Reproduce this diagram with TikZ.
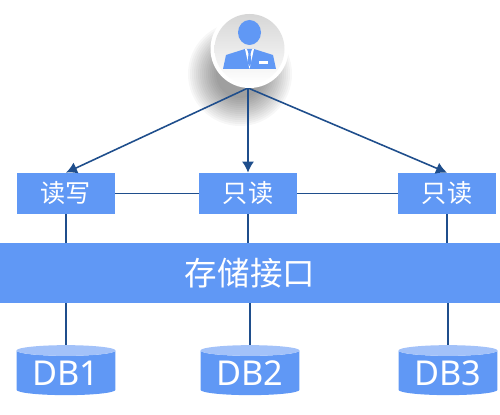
\documentclass[tikz,border=0pt]{standalone}
\usepackage{fontspec}
\setmainfont{Noto Sans}
\newfontfamily\cjk{Noto Sans CJK SC}
\usetikzlibrary{shapes.geometric,arrows.meta,positioning}
\definecolor{boxblue}{HTML}{6098F5}
\definecolor{toplight}{HTML}{A3C2F9}
\definecolor{linkblue}{HTML}{1F4E8C}
\tikzset{
    access/.style={fill=boxblue, minimum width=1.96cm, minimum height=0.82cm, inner sep=0pt, text=white, font=\cjk\fontsize{14.3}{16}\selectfont},
    store/.style={cylinder, shape border rotate=90, aspect=0.16, cylinder uses custom fill, cylinder body fill=boxblue, cylinder end fill=toplight, minimum width=1.98cm, minimum height=1cm, inner sep=0pt, text=white, font=\fontsize{19.5}{21}\selectfont},
    link/.style={draw=linkblue, line width=0.9pt},
    toplink/.style={link, -{Latex[length=2.2mm,width=2.4mm]}}
}

\begin{document}
\begin{tikzpicture}[x=0.02cm, y=-0.02cm]
    \useasboundingbox (0,0) rectangle (500,415);

    % soft shadow under the user badge
    \foreach \r in {52,50,...,24}
        \fill[black, opacity=0.032] (240,74) circle (\r);

    \coordinate (apex) at (248,88);

    \node[access] (rw) at (66,193.5) {读写};
    \node[access] (ro1) at (248,193.5) {只读};
    \node[access] (ro2) at (447,193.5) {只读};
    \node[fill=boxblue, minimum width=10cm, minimum height=1.2cm, inner sep=0pt, text=white, font=\cjk\fontsize{18.5}{20}\selectfont] (api) at (250,273) {存储接口};
    \node[store] (db1) at (66,373) {DB1};
    \node[store] (db2) at (250,373) {DB2};
    \node[store] (db3) at (448,373) {DB3};

    \draw[toplink] (apex) -- (rw.north);
    \draw[toplink] (apex) -- (ro1.north);
    \draw[toplink] (apex) -- (ro2.north);
    \draw[link] (rw) -- (ro1);
    \draw[link] (ro1) -- (ro2);
    \draw[link] (rw.south) -- (rw.south |- api.north);
    \draw[link] (ro1.south) -- (ro1.south |- api.north);
    \draw[link] (ro2.south) -- (ro2.south |- api.north);
    \draw[link] (db1.north |- api.south) -- (db1.north);
    \draw[link] (db2.north |- api.south) -- (db2.north);
    \draw[link] (db3.north |- api.south) -- (db3.north);

    % user badge
    \fill[white] (249.5,49) circle (39);
    \shade[top color=black!16, bottom color=white] (249.5,49) circle (35);
    \fill[boxblue] (249.5,32.5) ellipse (11.5 and 12.5);
    \fill[boxblue] (223,69) -- (226,55) -- (245,49) -- (254,49) -- (273,55) -- (276,69) -- cycle;
    \fill[white] (245,49) -- (249.5,69) -- (254,49) -- (252.5,49) -- (249.5,53) -- (246.5,49) -- cycle;
    \fill[boxblue] (247.5,50) -- (251.5,50) -- (250.5,54) -- (251.5,63) -- (249.5,66) -- (247.5,63) -- (248.5,54) -- cycle;
    \fill[white] (258.5,61) rectangle (268,64);
\end{tikzpicture}
\end{document}
